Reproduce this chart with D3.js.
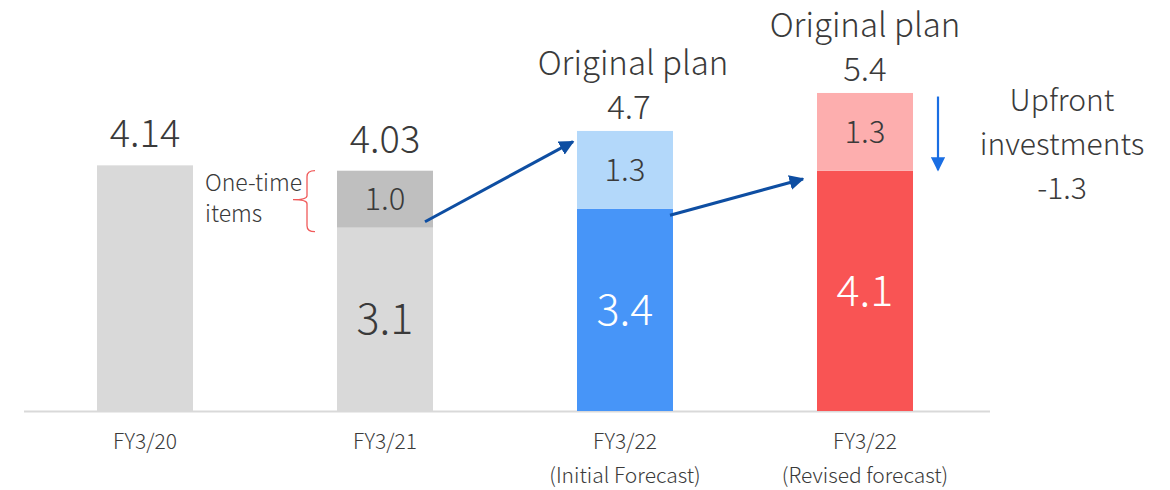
<!DOCTYPE html>
<html>
<head>
<meta charset="utf-8">
<script src="https://cdn.jsdelivr.net/npm/d3@7"></script>
<style>
  body { margin: 0; background: #fff; }
  svg text { font-family: "Noto Sans CJK JP", "Noto Sans", sans-serif; font-weight: 300; fill: #3a3a3a; }
</style>
</head>
<body>
<div class="js-vis"></div>
<script>
"use strict";

var categories = ["FY3/20", "FY3/21", "FY3/22 Initial", "FY3/22 Revised"],
    tickLines = [["FY3/20"], ["FY3/21"], ["FY3/22", "(Initial Forecast)"], ["FY3/22", "(Revised forecast)"]],
    baseValues = [4.14, 3.09, 3.41, 4.05],
    topValues = [0, 0.96, 1.31, 1.31],
    totalLabels = ["4.14", "4.03", "4.7", "5.4"],
    baseLabels = ["", "3.1", "3.4", "4.1"],
    topLabels = ["", "1.0", "1.3", "1.3"],
    baseColors = ["#d9d9d9", "#d9d9d9", "#4795f8", "#f95454"],
    topColors = ["#d9d9d9", "#bfbfbf", "#b3d8fa", "#fdaeae"];

var width = 1170, height = 490;

var svg = d3.select(".js-vis").append("svg").attr("width", width).attr("height", height);

var x = d3.scaleBand().domain(categories).range([25, 985]).paddingInner(0.6).paddingOuter(0.3);
var y = d3.scaleLinear().domain([0, 6]).range([411, 55]);

var data = categories.map(function (c, i) {
  return { cat: c, base: baseValues[i], top: topValues[i], i: i };
});

// axis
var xax = d3.axisBottom(x).tickSize(0).tickPadding(0);
var gx = svg.append("g").attr("transform", "translate(0," + y(0) + ")").call(xax);
gx.select(".domain").attr("d", "M24,0.5H990").attr("stroke", "#d9d9d9").attr("stroke-width", 2);
gx.selectAll(".tick text").each(function (d, i) {
  var t = d3.select(this).text(null).attr("y", 0).attr("dy", null)
    .style("font-size", "21px").style("fill", "#3a3a3a");
  tickLines[i].forEach(function (line, k) {
    t.append("tspan").attr("x", 0).attr("y", 38 + k * 34).text(line);
  });
});

// bars
var bars = svg.append("g");
bars.selectAll(".base").data(data).enter().append("rect")
  .attr("x", function (d) { return x(d.cat); })
  .attr("width", x.bandwidth())
  .attr("y", function (d) { return y(d.base); })
  .attr("height", function (d) { return y(0) - y(d.base); })
  .attr("fill", function (d) { return baseColors[d.i]; });

bars.selectAll(".top").data(data.filter(function (d) { return d.top > 0; })).enter().append("rect")
  .attr("x", function (d) { return x(d.cat); })
  .attr("width", x.bandwidth())
  .attr("y", function (d) { return y(d.base + d.top); })
  .attr("height", function (d) { return y(d.base) - y(d.base + d.top); })
  .attr("fill", function (d) { return topColors[d.i]; });

var cx = function (d) { return x(d.cat) + x.bandwidth() / 2; };

// labels
var labels = svg.append("g").attr("text-anchor", "middle");
labels.selectAll(".tot").data(data).enter().append("text")
  .attr("x", function (d) { return cx(d) + (d.i === 2 ? 4 : 0); })
  .attr("y", function (d) { return y(d.base + d.top) - (d.i < 2 ? 18 : 12); })
  .style("font-size", function (d) { return d.i < 2 ? "38px" : "33px"; })
  .text(function (d) { return totalLabels[d.i]; });

labels.selectAll(".bl").data(data.filter(function (d) { return baseLabels[d.i]; })).enter().append("text")
  .attr("x", cx)
  .attr("y", function (d) { return y(d.base / 2) + 15; })
  .style("font-size", "43px")
  .style("fill", function (d) { return d.i === 1 ? "#3a3a3a" : "#fff"; })
  .text(function (d) { return baseLabels[d.i]; });

labels.selectAll(".tl").data(data.filter(function (d) { return topLabels[d.i]; })).enter().append("text")
  .attr("x", cx)
  .attr("y", function (d) { return y(d.base + d.top / 2) + 11; })
  .style("font-size", "31px")
  .text(function (d) { return topLabels[d.i]; });

// "Original plan" headings
[2, 3].forEach(function (i) {
  var d = data[i];
  labels.append("text")
    .attr("x", cx(d) + (i === 2 ? 8 : 0))
    .attr("y", y(d.base + d.top) - 56)
    .style("font-size", "33px")
    .text("Original plan");
});

// one-time items note
var b1 = data[1];
svg.append("text").attr("x", x(b1.cat) - 132).attr("y", y(b1.base + b1.top) + 20)
  .style("font-size", "23px")
  .selectAll("tspan").data(["One-time", "items"]).enter().append("tspan")
  .attr("x", x(b1.cat) - 132).attr("dy", function (d, k) { return k ? 31 : 0; })
  .text(function (d) { return d; });

var bx0 = x(b1.cat) - 22, bx1 = x(b1.cat) - 44,
    by0 = y(b1.base + b1.top), by1 = y(b1.base) + 4, bym = by0 + 29;
svg.append("path")
  .attr("d", "M" + bx0 + "," + by0 + "Q" + (bx0 - 8) + "," + by0 + " " + (bx0 - 8) + "," + (by0 + 6) +
    "V" + (bym - 4) + "Q" + (bx0 - 8) + "," + bym + " " + bx1 + "," + bym +
    "Q" + (bx0 - 8) + "," + bym + " " + (bx0 - 8) + "," + (bym + 4) +
    "V" + (by1 - 6) + "Q" + (bx0 - 8) + "," + by1 + " " + bx0 + "," + by1)
  .attr("fill", "none").attr("stroke", "#f05a5a").attr("stroke-width", 1.3);

// arrows
var defs = svg.append("defs");
function marker(id, color, size) {
  defs.append("marker").attr("id", id).attr("viewBox", "0 0 10 10")
    .attr("refX", 9).attr("refY", 5).attr("markerWidth", size).attr("markerHeight", size)
    .attr("markerUnits", "strokeWidth").attr("orient", "auto")
    .append("path").attr("d", "M0,0L10,5L0,10z").attr("fill", color);
}
marker("ah", "#0e4ea2", 5);
marker("ah2", "#1a6ee3", 6.5);

var b2 = data[2], b3 = data[3];
var arrows = [
  [x(b1.cat) + x.bandwidth() - 8, y(3.19), x(b2.cat) - 4, y(4.54)],
  [x(b2.cat) + x.bandwidth() - 3, y(3.3), x(b3.cat) - 14, y(3.91)]
];
svg.selectAll(".arr").data(arrows).enter().append("line")
  .attr("x1", function (d) { return d[0]; }).attr("y1", function (d) { return d[1]; })
  .attr("x2", function (d) { return d[2]; }).attr("y2", function (d) { return d[3]; })
  .attr("stroke", "#0e4ea2").attr("stroke-width", 3).attr("marker-end", "url(#ah)");

var dx = x(b3.cat) + x.bandwidth() + 25;
svg.append("line").attr("x1", dx).attr("x2", dx).attr("y1", y(5.3)).attr("y2", y(4.06))
  .attr("stroke", "#1a6ee3").attr("stroke-width", 2.2).attr("marker-end", "url(#ah2)");

svg.append("text").attr("text-anchor", "middle").style("font-size", "30px")
  .selectAll("tspan").data(["Upfront", "investments", "-1.3"]).enter().append("tspan")
  .attr("x", dx + 124).attr("y", function (d, k) { return y(5.3) + 14 + k * 44; })
  .text(function (d) { return d; });
</script>
</body>
</html>
